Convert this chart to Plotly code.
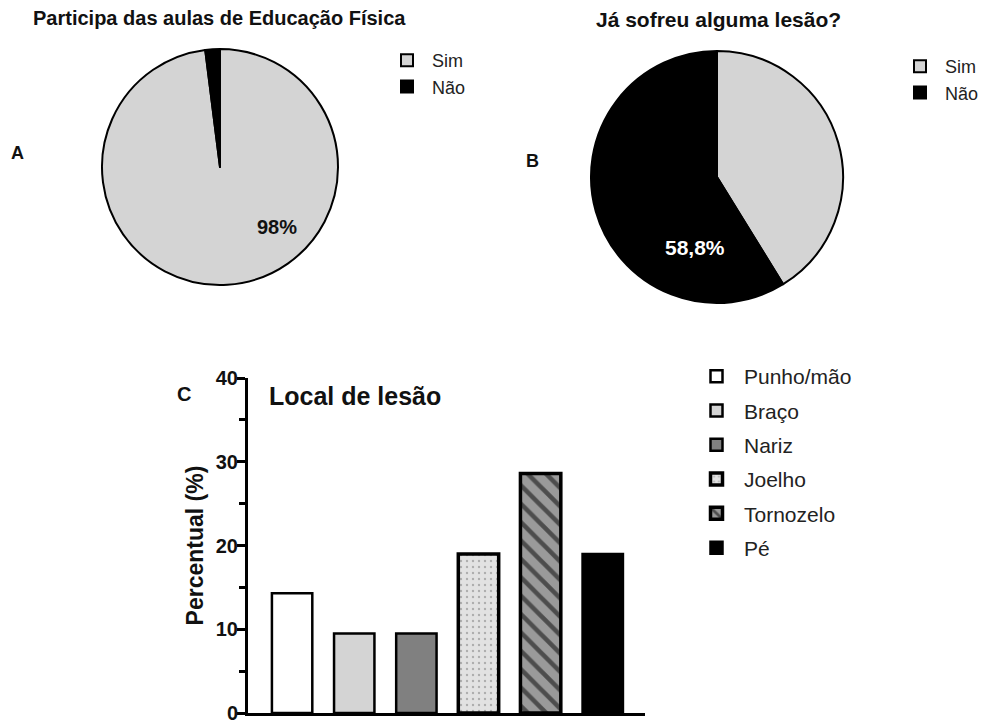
import plotly.graph_objects as go

FONT = "Arial, 'Liberation Sans', sans-serif"

# ---- data ----
pie_labels = ["Sim", "Não"]
pie_a_values = [98, 2]
pie_b_values = [41.2, 58.8]
pie_colors = ["#d4d4d4", "#000000"]

bar_categories = ["Punho/mão", "Braço", "Nariz", "Joelho", "Tornozelo", "Pé"]
bar_values = [14.3, 9.5, 9.5, 19.0, 28.6, 19.0]
bar_colors = ["#ffffff", "#d4d4d4", "#808080", "#e2e2e2", "#9a9a9a", "#000000"]
bar_patterns = ["", "", "", ".", "\\", ""]
bar_line_widths = [2.5, 2.5, 2.5, 3.5, 3.5, 2.5]
y_ticks = [0, 10, 20, 30, 40]
y_minor_ticks = [5, 15, 25, 35]

W, H = 986, 725

def px(x):
    return x / W

def py(y):
    return 1 - y / H

fig = go.Figure()

# Pie A
fig.add_trace(go.Pie(
    labels=pie_labels, values=pie_a_values, sort=False, direction="clockwise",
    rotation=0, marker=dict(colors=pie_colors, line=dict(color="#000", width=2)),
    textinfo="none", hoverinfo="label+percent",
    domain=dict(x=[px(220 - 118), px(220 + 118)], y=[py(167 + 118), py(167 - 118)]),
    legend="legend", legendgroup="a", showlegend=True,
))
# Pie B
fig.add_trace(go.Pie(
    labels=pie_labels, values=pie_b_values, sort=False, direction="clockwise",
    rotation=0, marker=dict(colors=pie_colors, line=dict(color="#000", width=2)),
    textinfo="none", hoverinfo="label+percent",
    domain=dict(x=[px(717 - 126), px(717 + 126)], y=[py(177 + 126), py(177 - 126)]),
    legend="legend2", legendgroup="b", showlegend=True,
))

# Bars
for i, (cat, val) in enumerate(zip(bar_categories, bar_values)):
    striped = bar_patterns[i] == "\\"
    fig.add_trace(go.Bar(
        x=[cat], y=[val], name=cat, width=0.65,
        marker=dict(
            color=bar_colors[i],
            line=dict(color="#000", width=bar_line_widths[i]),
            pattern=dict(shape=bar_patterns[i], fgcolor="#000" if striped else "#777",
                         bgcolor=bar_colors[i],
                         size=13 if striped else 6,
                         solidity=0.35 if striped else 0.12),
        ),
        legend="legend3", legendgroup=cat, showlegend=True,
    ))

def ann(text, x, y, size, color="#111", xanchor="center"):
    return dict(text=text, x=px(x), y=py(y), xref="paper", yref="paper", showarrow=False,
                xanchor=xanchor, yanchor="middle", font=dict(size=size, color=color, family=FONT))

annotations = [
    ann("<b>Participa das aulas de Educação Física</b>", 219, 18, 20),
    ann("<b>Já sofreu alguma lesão?</b>", 718, 19, 21),
    ann("<b>A</b>", 17, 153, 18),
    ann("<b>B</b>", 532, 161, 18),
    ann("<b>C</b>", 184, 394, 20),
    ann(f"<b>{pie_a_values[0]:g}%</b>", 277, 227, 20),
    ann("<b>" + f"{pie_b_values[1]:g}".replace(".", ",") + "%</b>", 695, 247, 21, color="#fff"),
    ann("<b>Local de lesão</b>", 267, 396, 25, xanchor="left"),
]

fig.update_layout(
    width=W, height=H, margin=dict(l=0, r=0, t=0, b=0),
    paper_bgcolor="white", plot_bgcolor="white",
    font=dict(family=FONT, color="#111"),
    annotations=annotations,
    barmode="overlay",
    legend=dict(x=px(382), y=py(42), xanchor="left", yanchor="top", itemwidth=40,
                font=dict(size=18, color="#222", family=FONT), bgcolor="rgba(0,0,0,0)"),
    legend2=dict(x=px(895), y=py(48), xanchor="left", yanchor="top", itemwidth=40,
                 font=dict(size=18, color="#222", family=FONT), bgcolor="rgba(0,0,0,0)"),
    legend3=dict(x=px(689), y=py(356), xanchor="left", yanchor="top", traceorder="grouped",
                 itemwidth=45, tracegroupgap=4, font=dict(size=21, color="#222", family=FONT),
                 bgcolor="rgba(0,0,0,0)"),
    xaxis=dict(domain=[px(248), px(645)], range=[-0.71, 5.68], showticklabels=False, ticks="",
               showline=True, linecolor="#000", linewidth=3, showgrid=False, zeroline=False,
               anchor="y", fixedrange=True),
    yaxis=dict(domain=[py(713), py(378)], range=[0, 40], tickvals=y_ticks, ticks="outside",
               ticklen=8, tickwidth=3, tickcolor="#000", showline=True, linecolor="#000",
               linewidth=3, showgrid=False, zeroline=False, anchor="x",
               ticklabelstandoff=-5,
               tickfont=dict(size=20, color="#111", family=FONT, weight="bold"),
               minor=dict(tickvals=y_minor_ticks, ticks="outside", ticklen=6, tickwidth=3,
                          tickcolor="#000", showgrid=False),
               title=dict(text="<b>Percentual (%)</b>", standoff=6,
                          font=dict(size=23, color="#111", family=FONT)),
               automargin=False, fixedrange=True),
)

fig.write_html("out.html", config={"displayModeBar": False},
               post_script="document.body.style.margin='0';document.body.style.overflow='hidden';")
